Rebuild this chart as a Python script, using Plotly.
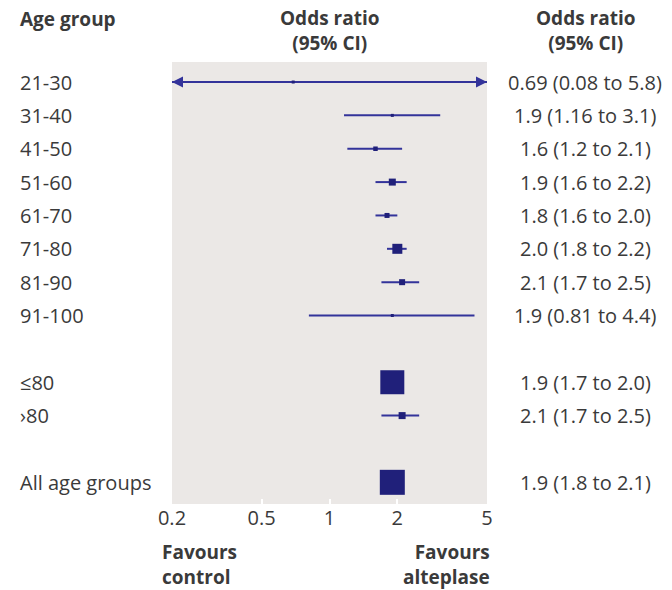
import math
import plotly.graph_objects as go

groups = ["21-30", "31-40", "41-50", "51-60", "61-70", "71-80", "81-90",
          "91-100", "≤80", "›80", "All age groups"]
odds = [0.69, 1.9, 1.6, 1.9, 1.8, 2.0, 2.1, 1.9, 1.9, 2.1, 1.9]
ci_low = [0.08, 1.16, 1.2, 1.6, 1.6, 1.8, 1.7, 0.81, 1.7, 1.7, 1.8]
ci_high = [5.8, 3.1, 2.1, 2.2, 2.0, 2.2, 2.5, 4.4, 2.0, 2.5, 2.1]
ci_text = ["0.69 (0.08 to 5.8)", "1.9 (1.16 to 3.1)", "1.6 (1.2 to 2.1)",
           "1.9 (1.6 to 2.2)", "1.8 (1.6 to 2.0)", "2.0 (1.8 to 2.2)",
           "2.1 (1.7 to 2.5)", "1.9 (0.81 to 4.4)", "1.9 (1.7 to 2.0)",
           "2.1 (1.7 to 2.5)", "1.9 (1.8 to 2.1)"]
row_pos = [0, 1, 2, 3, 4, 5, 6, 7, 9, 10, 12]
weights = [3, 3, 4.5, 7, 5, 10, 6, 3, 24, 7, 25]
tick_vals = [0.2, 0.5, 1, 2, 5]
tick_text = ["0.2", "0.5", "1", "2", "5"]
x_min, x_max = 0.2, 5

FONT = "Open Sans"
TXT = "#3a3a3a"
NAVY = "#20207a"
LINE = "#33339a"
ROWSZ = 20
HDRSZ = 19

fig = go.Figure()

for i in range(len(groups)):
    lo_c = max(ci_low[i], x_min)
    hi_c = min(ci_high[i], x_max)
    fig.add_trace(go.Scatter(
        x=[lo_c, hi_c], y=[row_pos[i], row_pos[i]], mode="lines",
        line=dict(color=LINE, width=2), hoverinfo="skip", showlegend=False))
    if ci_low[i] < x_min:
        fig.add_trace(go.Scatter(
            x=[lo_c], y=[row_pos[i]], mode="markers", cliponaxis=False,
            marker=dict(symbol="arrow-left", size=11, color=LINE, opacity=1,
                        line=dict(width=0)),
            hoverinfo="skip", showlegend=False))
    if ci_high[i] > x_max:
        fig.add_trace(go.Scatter(
            x=[hi_c], y=[row_pos[i]], mode="markers", cliponaxis=False,
            marker=dict(symbol="arrow-right", size=11, color=LINE, opacity=1,
                        line=dict(width=0)),
            hoverinfo="skip", showlegend=False))

fig.add_trace(go.Scatter(
    x=odds, y=row_pos, mode="markers",
    marker=dict(symbol="square", size=weights, color=NAVY, opacity=1,
                line=dict(width=0)),
    hoverinfo="skip", showlegend=False))

fig.add_shape(type="line", xref="x", yref="paper",
              x0=math.log10(1), x1=math.log10(1), y0=0, y1=1,
              line=dict(color=LINE, width=1.5), layer="below")

annotations = []
for i, g in enumerate(groups):
    annotations.append(dict(text=g, xref="paper", yref="y", x=(18 - 172) / 315,
                            y=row_pos[i], xanchor="left", yanchor="middle",
                            showarrow=False, font=dict(size=ROWSZ, color=TXT, family=FONT)))
    annotations.append(dict(text=ci_text[i], xref="paper", yref="y", x=(585 - 172) / 315,
                            y=row_pos[i], xanchor="center", yanchor="middle",
                            showarrow=False, font=dict(size=ROWSZ, color=TXT, family=FONT)))

hdr = dict(size=HDRSZ, color=TXT, family=FONT)
annotations += [
    dict(text="<b>Age group</b>", xref="paper", yref="paper", x=(18 - 172) / 315,
         y=(504 - 19) / 442, xanchor="left", yanchor="middle", showarrow=False, font=hdr),
    dict(text="<b>Odds ratio<br>(95% CI)</b>", xref="paper", yref="paper", x=0.5,
         y=(504 - 30) / 442, xanchor="center", yanchor="middle", showarrow=False,
         font=hdr, align="center"),
    dict(text="<b>Odds ratio<br>(95% CI)</b>", xref="paper", yref="paper",
         x=(585 - 172) / 315, y=(504 - 30) / 442, xanchor="center", yanchor="middle",
         showarrow=False, font=hdr, align="center"),
    dict(text="<b>Favours<br>control</b>", xref="paper", yref="paper",
         x=(160 - 172) / 315, y=(504 - 564) / 442, xanchor="left", yanchor="middle",
         showarrow=False, font=hdr, align="left"),
    dict(text="<b>Favours<br>alteplase</b>", xref="paper", yref="paper",
         x=(492 - 172) / 315, y=(504 - 564) / 442, xanchor="right", yanchor="middle",
         showarrow=False, font=hdr, align="right"),
]

fig.update_layout(
    width=672, height=590,
    margin=dict(l=172, r=185, t=62, b=86),
    paper_bgcolor="white", plot_bgcolor="#ebe8e6",
    annotations=annotations,
    xaxis=dict(type="log", range=[math.log10(x_min), math.log10(x_max)],
               tickvals=tick_vals, ticktext=tick_text, showgrid=False,
               zeroline=False, showline=False, ticks="inside", ticklen=5,
               tickcolor="white", tickwidth=2,
               tickfont=dict(size=ROWSZ, color=TXT, family=FONT)),
    yaxis=dict(range=[12.65, -0.6], showticklabels=False, showgrid=False,
               zeroline=False, showline=False, ticks=""),
)

fig.write_html("out.html", config={"displayModeBar": False},
               post_script="document.body.style.margin='0';document.body.style.overflow='hidden';")
